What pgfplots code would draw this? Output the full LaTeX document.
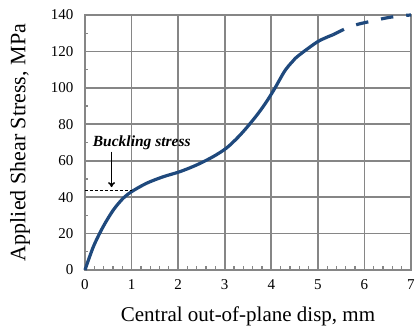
\documentclass[border=0pt]{standalone}
\usepackage{pgfplots}
\pgfplotsset{compat=1.18}
\usetikzlibrary{arrows.meta}
\usepackage{fontspec}
\setmainfont{Liberation Serif}
\definecolor{curve}{RGB}{31,73,125}
\definecolor{gridc}{RGB}{134,134,134}
\begin{document}
\begin{tikzpicture}
\useasboundingbox (-85pt,-64pt) rectangle (331pt,270pt);
\begin{axis}[
  at={(0,0)}, anchor=south west,
  scale only axis, width=326pt, height=255pt,
  xmin=0, xmax=7, ymin=0, ymax=140,
  xtick={0,1,...,7}, ytick={0,20,...,140},
  minor x tick num=4, minor y tick num=1,
  grid=major,
  major grid style={draw=gridc, line width=1.6pt},
  axis line style={draw=gridc, line width=1.6pt},
  major tick length=3pt, minor tick length=3.5pt,
  tick style={draw=gridc, line width=1.3pt},
  tick pos=left,
  tick align=inside,
  /pgf/number format/assume math mode=true,
  ticklabel style={font=\fontsize{15}{15}\selectfont},
  xticklabel style={yshift=-6pt},
  yticklabel style={xshift=-8pt},
  xlabel={Central out-of-plane disp, mm},
  ylabel={Applied Shear Stress, MPa},
  xlabel style={font=\fontsize{21}{21}\selectfont, at={(axis description cs:0.5,0)}, anchor=north, yshift=-33pt},
  ylabel style={font=\fontsize{22}{22}\selectfont, at={(axis description cs:-0.1994,0.5)}, anchor=center},
  clip=false,
]
\addplot[curve, line width=3.2pt, line join=round, smooth, tension=0.5] coordinates {
 (0,0) (0.18,12.8) (0.39,23.8) (0.61,33) (0.82,39.4) (1.0,43) (1.32,47.6)
 (1.68,51.2) (2.04,54) (2.40,57.7) (2.75,62.2) (3.04,67) (3.29,73) (3.5,79)
 (3.72,86) (3.9,92.5) (4.07,99.5) (4.29,109.3) (4.45,114.3) (4.58,117.6) (5.0,125.4) (5.32,129.1)
};
\addplot[curve, line width=3.2pt, dash pattern=on 12.5pt off 13pt, smooth, tension=0.5] coordinates {
 (5.32,129.1) (5.61,132.7) (5.86,134.9) (6.15,136.6) (6.43,138.2) (6.72,139.4) (7.0,140)
};
\addplot[black, line width=1.1pt, dash pattern=on 3pt off 2pt] coordinates {(0,43.4) (1.0,43.4)};
\addplot[black, line width=1.6pt, -{To[length=5pt,width=7pt]}] coordinates {(0.57,65) (0.57,45.5)};
\node[anchor=west, inner sep=0pt, font=\bfseries\itshape\fontsize{15.5}{15.5}\selectfont] at (axis cs:0.165,70) {Buckling stress};
\end{axis}
\end{tikzpicture}
\end{document}
